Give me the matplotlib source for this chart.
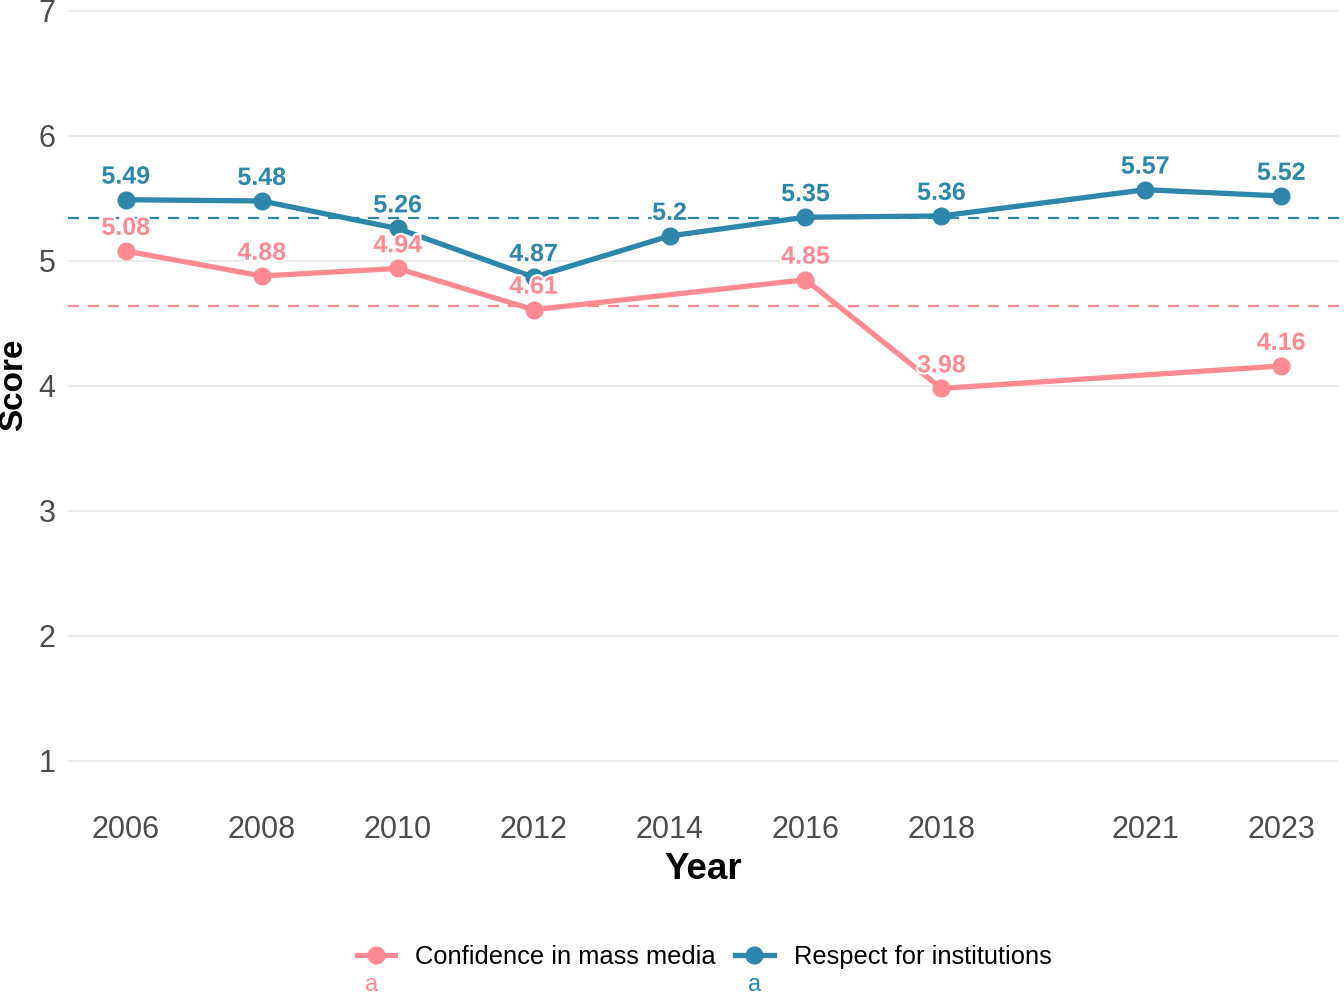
import numpy as np
import matplotlib.pyplot as plt
import matplotlib.patheffects as pe
from matplotlib.lines import Line2D

# data
media_years = [2006, 2008, 2010, 2012, 2016, 2018, 2023]
media_score = [5.08, 4.88, 4.94, 4.61, 4.85, 3.98, 4.16]
inst_years = [2006, 2008, 2010, 2012, 2014, 2016, 2018, 2021, 2023]
inst_score = [5.49, 5.48, 5.26, 4.87, 5.2, 5.35, 5.36, 5.57, 5.52]
year_ticks = [2006, 2008, 2010, 2012, 2014, 2016, 2018, 2021, 2023]
series_names = ["Confidence in mass media", "Respect for institutions"]

RED = "#FF8A94"
BLUE = "#2E86AB"
TICK = "#4D4D4D"
FONT = ["Liberation Sans", "DejaVu Sans"]

fig = plt.figure(figsize=(13.44, 9.98), dpi=100)
ax = fig.add_axes([0.0506, 0.2, 0.9457, 0.8])

for yrs, vals, col in [(media_years, media_score, RED), (inst_years, inst_score, BLUE)]:
    # dashed line at the series mean
    ax.axhline(np.mean(vals), color=col, lw=1.6, ls=(0, (5, 4)), zorder=1)
    ax.plot(yrs, vals, color=col, lw=3.8, marker="o", ms=12, zorder=3)
    for x, y in zip(yrs, vals):
        ax.annotate(f"{y:g}", (x, y), xytext=(0, 8), textcoords="offset points",
                    ha="center", va="bottom", color=col, fontsize=18,
                    family=FONT, fontweight="bold", zorder=4,
                    path_effects=[pe.withStroke(linewidth=3, foreground="white")])

ax.set_xlim(2006 - 0.85, 2023 + 0.85)
ax.set_ylim(0.7, 7.088)
ax.set_yticks(range(1, 8))
ax.set_xticks(year_ticks)
ax.grid(axis="y", color="#EBEBEB", lw=1.3)
ax.set_axisbelow(True)
for s in ax.spines.values():
    s.set_visible(False)
ax.tick_params(axis="x", length=0, labelsize=22, labelcolor=TICK, pad=12)
ax.tick_params(axis="y", length=0, labelsize=22, labelcolor=TICK, pad=9)
for lab in ax.get_xticklabels() + ax.get_yticklabels():
    lab.set_family(FONT)

ax.set_xlabel("Year", fontsize=26.5, fontweight="bold", family=FONT, labelpad=5)
ax.set_ylabel("Score", fontsize=24, fontweight="bold", family=FONT)
ax.yaxis.set_label_coords(-0.031, 0.518)

handles = [Line2D([], [], color=RED, lw=3.8, marker="o", ms=12),
           Line2D([], [], color=BLUE, lw=3.8, marker="o", ms=12)]
leg = fig.legend(handles, series_names, loc="center", bbox_to_anchor=(0.524, 0.041),
                 ncol=2, frameon=False, handlelength=1.5, columnspacing=0.75,
                 handletextpad=0.8, prop={"family": FONT, "size": 18.4})
fig.text(372 / 1344, 1 - 985 / 998, "a", color=RED, fontsize=17, ha="center", va="center", family=FONT)
fig.text(755 / 1344, 1 - 985 / 998, "a", color=BLUE, fontsize=17, ha="center", va="center", family=FONT)

fig.savefig("out.png", dpi=100)
